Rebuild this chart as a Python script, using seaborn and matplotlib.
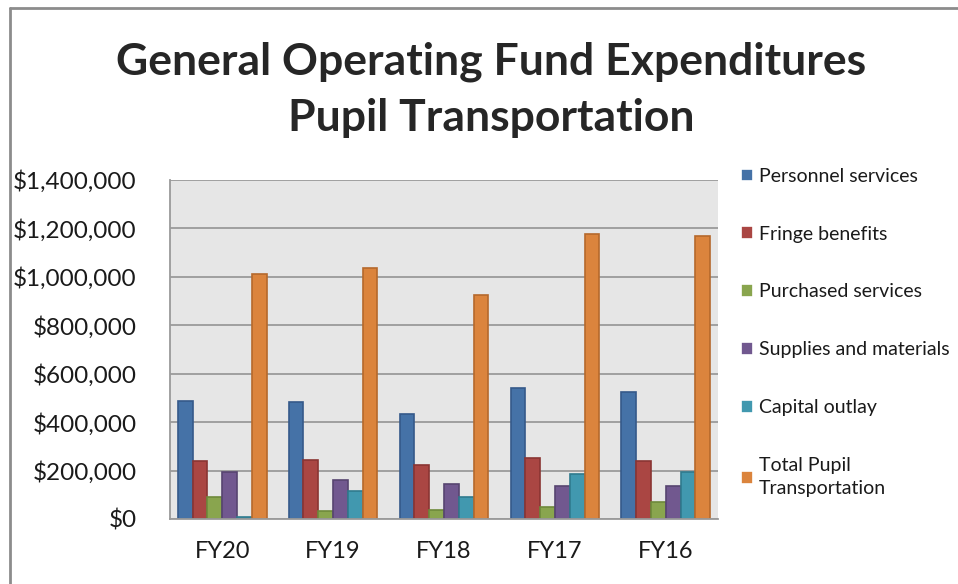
import matplotlib
matplotlib.use("Agg")
import matplotlib.pyplot as plt
import matplotlib.ticker as mticker
from matplotlib.lines import Line2D
import numpy as np
import pandas as pd
import seaborn as sns

# data
years = ["FY20", "FY19", "FY18", "FY17", "FY16"]
categories = ["Personnel services", "Fringe benefits", "Purchased services",
              "Supplies and materials", "Capital outlay", "Total Pupil\nTransportation"]
personnel = [487000, 482000, 435000, 540000, 525000]
fringe = [240000, 245000, 223000, 253000, 240000]
purchased = [91000, 32000, 37000, 48000, 69000]
supplies = [195000, 160000, 143000, 138000, 138000]
capital = [8000, 117000, 91000, 185000, 193000]
total = [1013000, 1038000, 926000, 1175000, 1169000]

colors = ["#4572A7", "#AA4643", "#89A54E", "#71588F", "#4198AF", "#DB843D"]
edges = ["#35598A", "#8A3533", "#6E8A3B", "#574470", "#2F7A8E", "#B5692C"]

series = [personnel, fringe, purchased, supplies, capital, total]
rows = []
for cat, vals in zip(categories, series):
    for yr, v in zip(years, vals):
        rows.append({"year": yr, "category": cat, "amount": v})
df = pd.DataFrame(rows)

sns.set_style("white")
plt.rcParams["font.family"] = ["Lato", "DejaVu Sans"]

fig = plt.figure(figsize=(9.58, 5.84), dpi=100)
ax = fig.add_axes([170 / 958, 1 - 519 / 584, 548 / 958, 339 / 584])

sns.barplot(data=df, x="year", y="amount", hue="category", order=years,
            hue_order=categories, palette=colors, saturation=1, width=0.8,
            linewidth=1.2, ax=ax)
for cont, ec in zip(ax.containers, edges):
    for bar in cont:
        bar.set_edgecolor(ec)

ax.set_facecolor("#E6E6E6")
ax.set_ylim(0, 1400000)
ax.set_xlim(-0.47, 4.47)
ax.yaxis.set_major_locator(mticker.MultipleLocator(200000))
ax.yaxis.set_major_formatter(mticker.FuncFormatter(lambda v, p: "${:,.0f}".format(v)))
ax.grid(axis="y", color="#9A9A9A", linewidth=1.3)
ax.set_axisbelow(True)
ax.set_xlabel("")
ax.set_ylabel("")
ax.tick_params(axis="y", labelsize=17.5, pad=24, length=0, labelcolor="#1A1A1A")
ax.tick_params(axis="x", labelsize=17, pad=16, length=0, labelcolor="#1A1A1A")
for s in ["top", "right"]:
    ax.spines[s].set_visible(False)
for s in ["left", "bottom"]:
    ax.spines[s].set_color("#9A9A9A")
    ax.spines[s].set_linewidth(1.3)

handles, labels = ax.get_legend_handles_labels()
leg = ax.legend(handles, labels, loc="upper left", bbox_to_anchor=(733 / 958, 1 - 160 / 584),
                bbox_transform=fig.transFigure, frameon=False, fontsize=14,
                labelspacing=2.1, handlelength=0.62, handleheight=0.62,
                handletextpad=0.3, borderaxespad=0)
for t in leg.get_texts():
    t.set_linespacing(1.45)
    t.set_color("#1A1A1A")

fig.text(491 / 958, 1 - 62 / 584, "General Operating Fund Expenditures",
         ha="center", va="center", fontsize=32, fontweight="bold")
fig.text(491 / 958, 1 - 118 / 584, "Pupil Transportation",
         ha="center", va="center", fontsize=32, fontweight="bold")

# outer chart frame
fig.add_artist(Line2D([10 / 958, 10 / 958], [0, 1 - 8 / 584], transform=fig.transFigure,
                      color="#8C8C8C", linewidth=2))
fig.add_artist(Line2D([10 / 958, 1], [1 - 8 / 584, 1 - 8 / 584], transform=fig.transFigure,
                      color="#8C8C8C", linewidth=2))

fig.savefig("out.png", dpi=100)
